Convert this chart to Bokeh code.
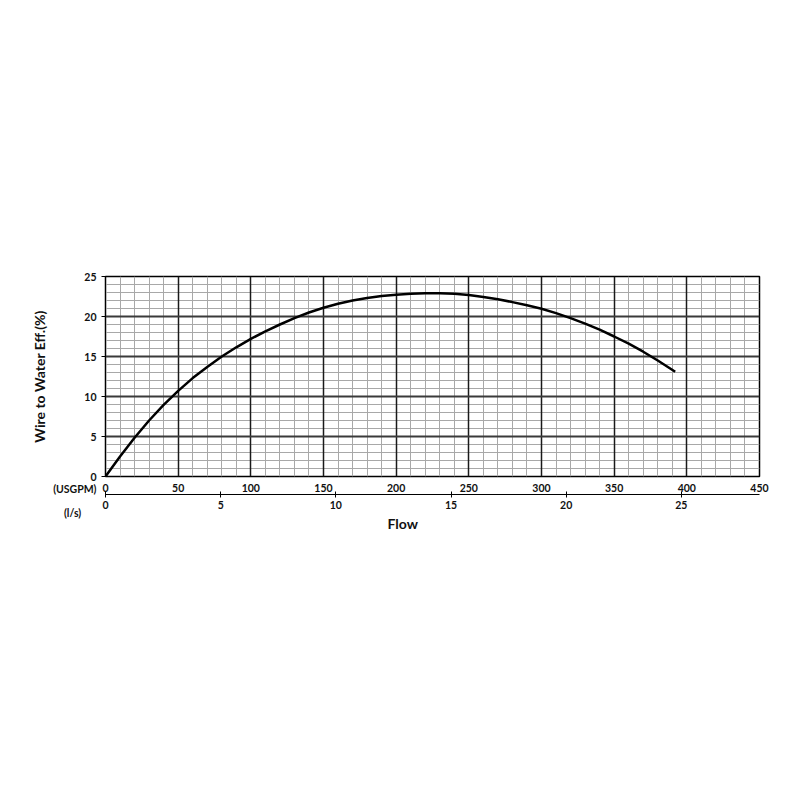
from bokeh.plotting import figure
from bokeh.models import LinearAxis, Range1d, FixedTicker, Title, Grid
from bokeh.embed import file_html
from bokeh.resources import INLINE

flow_usgpm = [0, 10, 20, 30, 40, 50, 60, 70, 80, 90, 100, 110, 120, 130, 140, 150,
              160, 170, 180, 190, 200, 210, 220, 230, 240, 250, 260, 270, 280, 290,
              300, 310, 320, 330, 340, 350, 360, 370, 380, 392]
efficiency = [0, 2.5, 4.85, 7.0, 8.95, 10.7, 12.3, 13.7, 15.0, 16.15, 17.2, 18.15, 19.0,
              19.8, 20.5, 21.1, 21.6, 22.0, 22.3, 22.55, 22.72, 22.85, 22.92, 22.92,
              22.85, 22.68, 22.45, 22.15, 21.8, 21.4, 20.96, 20.42, 19.8, 19.1, 18.35,
              17.5, 16.6, 15.6, 14.5, 13.1]
usgpm_ticks = [0, 50, 100, 150, 200, 250, 300, 350, 400, 450]
usgpm_minor = [v for v in range(0, 451, 10) if v % 50]
ls_ticks = [0, 5, 10, 15, 20, 25]
eff_ticks = [0, 5, 10, 15, 20, 25]
eff_minor = [v for v in range(0, 26) if v % 5]
USGPM_PER_LS = 15.85

FONT = "Lato"
TICK_SIZE = "10.5px"
TEXT_COLOR = "#111111"

p = figure(width=792, height=792, output_backend="svg", toolbar_location=None,
           x_range=Range1d(0, 450), y_range=Range1d(0, 25),
           min_border_left=105, min_border_right=33, min_border_top=276,
           min_border_bottom=316, x_axis_location=None, y_axis_location=None)
p.background_fill_color = "white"
p.border_fill_color = "white"
p.outline_line_color = "black"
p.outline_line_width = 1.5

p.extra_x_ranges = {"ls": Range1d(0, 450 / USGPM_PER_LS)}


def style_axis(ax):
    ax.minor_tick_out = 0
    ax.minor_tick_in = 0
    ax.major_label_text_font = FONT
    ax.major_label_text_font_style = "bold"
    ax.major_label_text_font_size = TICK_SIZE
    ax.major_label_text_color = TEXT_COLOR
    ax.axis_label_text_color = TEXT_COLOR


# Y axis (the unit captions of the two flow scales sit under its "0")
yax = LinearAxis(ticker=FixedTicker(ticks=eff_ticks), axis_label="Wire to Water Eff.(%)")
style_axis(yax)
yax.major_label_overrides = {0: "\n\n\n0\n(USGPM)\n\n(l/s)\u00a0\u00a0\u00a0\u00a0\u00a0\u00a0"}
yax.axis_line_color = "black"
yax.major_tick_out = 4
yax.major_tick_in = 0
yax.major_label_text_line_height = 1.0
yax.axis_label_text_font = FONT
yax.axis_label_text_font_style = "bold"
yax.axis_label_text_font_size = "14px"
yax.axis_label_standoff = 2
yax.major_label_standoff = 5
p.add_layout(yax, "left")

# USGPM axis
xax = LinearAxis(ticker=FixedTicker(ticks=usgpm_ticks))
style_axis(xax)
xax.axis_line_color = None
xax.major_tick_out = 0
xax.major_tick_in = 0
xax.major_label_standoff = 7
p.add_layout(xax, "below")

# l/s axis
lax = LinearAxis(x_range_name="ls", ticker=FixedTicker(ticks=ls_ticks))
style_axis(lax)
lax.axis_line_color = "black"
lax.axis_line_width = 1.2
lax.major_tick_out = 3
lax.major_tick_in = 3
lax.major_label_standoff = 3
p.add_layout(lax, "below")

flow_title = Title(text="Flow", align="left", offset=282, standoff=2,
                   text_font=FONT, text_font_style="bold", text_font_size="14px",
                   text_color=TEXT_COLOR)
p.add_layout(flow_title, "below")

# Grids: all minor lines underneath, majors on top
minor_x = Grid(dimension=0, ticker=FixedTicker(ticks=usgpm_minor),
               grid_line_color="#a8a8a8", grid_line_width=1, level="underlay")
minor_y = Grid(dimension=1, ticker=FixedTicker(ticks=eff_minor),
               grid_line_color="#a8a8a8", grid_line_width=1, level="underlay")

p.ygrid.ticker = FixedTicker(ticks=eff_ticks)
p.ygrid.grid_line_color = "#3a3a3a"
p.ygrid.grid_line_width = 2
p.ygrid.level = "underlay"
p.xgrid.ticker = FixedTicker(ticks=usgpm_ticks)
p.xgrid.grid_line_color = "#1a1a1a"
p.xgrid.grid_line_width = 1.5
p.xgrid.level = "underlay"

p.center = [minor_x, minor_y] + list(p.center)

p.line(flow_usgpm, efficiency, line_color="black", line_width=2.5, line_join="round")

open("out.html", "w").write(file_html(p, INLINE))
